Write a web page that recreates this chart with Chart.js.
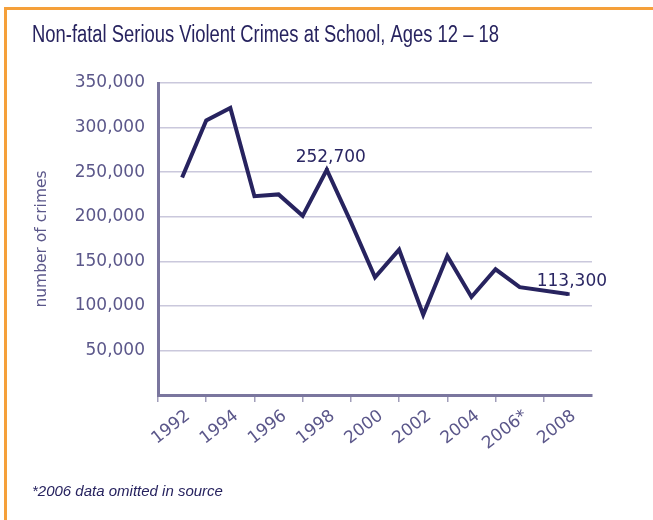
<!DOCTYPE html>
<html>
<head>
<meta charset="utf-8">
<script src="https://cdn.jsdelivr.net/npm/chart.js@4/dist/chart.umd.min.js"></script>
<style>
  html, body { margin: 0; padding: 0; background: #fff; }
  #wrap { position: relative; width: 653px; height: 520px; overflow: hidden; }
  #frame { position: absolute; left: 4px; top: 7px; width: 700px; height: 600px;
           border-left: 3px solid #f5a03a; border-top: 3px solid #f5a03a; }
  canvas { position: absolute; left: 0; top: 0; }
</style>
</head>
<body>
<div id="wrap">
  <div id="frame"></div>
  <canvas id="crimeChart" width="653" height="520"></canvas>
</div>
<script>
const chartTitle = 'Non-fatal Serious Violent Crimes at School, Ages 12 \u2013 18';
const footnote = '*2006 data omitted in source';
const yTitle = 'number of crimes';

const years  = [1992, 1993, 1994, 1995, 1996, 1997, 1998, 1999, 2000, 2001, 2002, 2003, 2004, 2005, 2006, 2007, 2008];
const crimes = [244000, 308000, 322000, 223000, 225000, 201000, 252700, 194000, 132000, 163000, 90000, 156000, 110000, 141000, 121000, null, 113300];
const labeledYears = [1998, 2008];
const starredYear = 2006;

const navy = '#27235f';
const muted = '#5b578a';

// condensed headline: no narrow font installed, so squeeze it with maxWidth
const headline = {
  id: 'headline',
  afterDraw(chart) {
    const ctx = chart.ctx;
    ctx.save();
    ctx.font = '23px "Liberation Sans"';
    ctx.fillStyle = navy;
    ctx.textAlign = 'left';
    ctx.textBaseline = 'alphabetic';
    ctx.fillText(chartTitle, 32, 42, 467);
    ctx.restore();
  }
};

// values written above the line at the labeled years
const pointLabels = {
  id: 'pointLabels',
  afterDatasetsDraw(chart) {
    const meta = chart.getDatasetMeta(0);
    const ctx = chart.ctx;
    ctx.save();
    ctx.font = '17px "DejaVu Sans"';
    ctx.fillStyle = '#2a2663';
    ctx.textAlign = 'center';
    ctx.textBaseline = 'alphabetic';
    labeledYears.forEach(yr => {
      const i = years.indexOf(yr);
      const pt = meta.data[i];
      ctx.fillText(crimes[i].toLocaleString('en-US'), pt.x + 4, pt.y - 8);
    });
    ctx.restore();
  }
};

const data = {
  datasets: [{
    label: 'Crimes',
    data: years.map((yr, i) => ({ x: yr, y: crimes[i] })),
    borderColor: navy,
    backgroundColor: navy,
    borderWidth: 4,
    borderJoinStyle: 'miter',
    tension: 0,
    spanGaps: true,
    pointStyle: 'rect',
    pointRadius: ctx => labeledYears.includes(years[ctx.dataIndex]) ? 2.5 : 0,
    pointBorderWidth: 0
  }]
};

const config = {
  type: 'line',
  data: data,
  plugins: [headline, pointLabels],
  options: {
    responsive: false,
    animation: false,
    devicePixelRatio: 1,
    layout: { padding: { left: 32, right: 61, top: 83, bottom: 19 } },
    plugins: {
      legend: { display: false },
      tooltip: { enabled: false },
      title: { display: false },
      subtitle: {
        display: true,
        position: 'bottom',
        text: footnote,
        align: 'start',
        color: navy,
        font: { family: 'Liberation Sans', size: 15, style: 'italic', weight: 'normal' },
        padding: { top: 0, bottom: 0 }
      }
    },
    scales: {
      x: {
        type: 'linear',
        min: 1991,
        max: 2009,
        afterFit: scale => { scale.height = 88; },
        ticks: {
          stepSize: 1,
          autoSkip: false,
          minRotation: 38,
          maxRotation: 38,
          labelOffset: 6,
          padding: 4,
          color: muted,
          font: { family: 'DejaVu Sans', size: 17 },
          callback: v => v % 2 === 0 ? (v === starredYear ? v + '*' : String(v)) : ''
        },
        grid: {
          drawOnChartArea: false,
          drawTicks: true,
          tickLength: 7,
          lineWidth: 1.5,
          color: ctx => (ctx.tick && ctx.tick.value % 2 === 1 && ctx.tick.value < 2009) ? '#a19eba' : 'rgba(0,0,0,0)'
        },
        border: { display: true, color: '#7a769e', width: 3 }
      },
      y: {
        min: 0,
        max: 350000,
        afterFit: scale => { scale.width = 126; },
        ticks: {
          stepSize: 50000,
          padding: 13,
          color: muted,
          font: { family: 'DejaVu Sans', size: 17 },
          callback: v => v === 0 ? '' : v.toLocaleString('en-US')
        },
        grid: { color: '#cac8dc', lineWidth: 1.5, drawTicks: false },
        border: { display: true, color: '#7a769e', width: 3 },
        title: {
          display: true,
          text: yTitle,
          color: muted,
          font: { family: 'DejaVu Sans', size: 15.5 },
          padding: { top: 1, bottom: 0 }
        }
      }
    }
  }
};

const crimeChart = new Chart(document.getElementById('crimeChart'), config);
</script>
</body>
</html>
